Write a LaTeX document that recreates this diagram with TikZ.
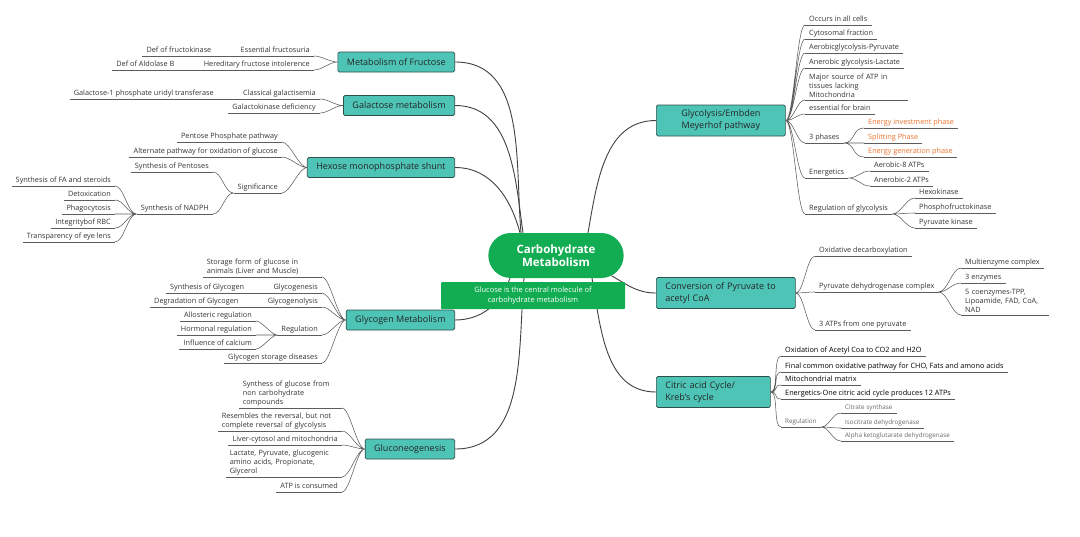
\documentclass[tikz,border=0pt]{standalone}
\usepackage{fontspec}
\setmainfont{Open Sans}
\usepackage{tikz}
\usetikzlibrary{positioning,shapes.misc}

\definecolor{topicfill}{HTML}{4DC4B6}
\definecolor{topicline}{HTML}{2F4F4B}
\definecolor{rootgreen}{HTML}{12AD52}
\definecolor{phaseorange}{HTML}{E8712B}
\definecolor{branchgray}{HTML}{5C5C5C}

\begin{document}
\begin{tikzpicture}[
  x=1pt, y=-1pt,
  root/.style={rounded rectangle, fill=rootgreen, text=white, minimum width=142pt,
    minimum height=45pt, align=center, font=\fontsize{11.5}{13.5}\selectfont\bfseries},
  note/.style={fill=rootgreen, rounded corners=1pt, text=white, minimum width=184pt,
    minimum height=27pt, align=center, font=\fontsize{7.5}{9.5}\selectfont},
  topic/.style={draw=topicline, fill=topicfill, line width=0.7pt, rounded corners=1.5pt,
    inner xsep=9pt, inner ysep=5pt, minimum height=20pt,
    font=\fontsize{9}{12}\selectfont, text=black!85},
  lf/.style={inner xsep=4pt, inner ysep=2pt, text=black!80, font=\fontsize{7.3}{9}\selectfont,
    append after command={(\tikzlastnode.south west) edge[br] (\tikzlastnode.south east)}},
  leaf/.style={lf, text height=5.5pt, text depth=1.7pt},
  mleaf/.style={lf, align=left, text width=#1},
  rleaf/.style={leaf, anchor=south west},
  lleaf/.style={leaf, anchor=south east},
  phase/.style={text=phaseorange},
  dark/.style={text=black},
  small/.style={font=\fontsize{6.3}{7.5}\selectfont, text=black!60},
  link/.style={draw=black!75, line width=0.9pt},
  br/.style={draw=branchgray, line width=0.55pt},
  rb/.style={br, out=0, in=180, distance=#1}, rb/.default=8pt,
  lb/.style={br, out=180, in=0, distance=#1}, lb/.default=8pt
]
\useasboundingbox (0,0) rectangle (1080,536);

% centre
\node[root] (cm) at (556,255.5) {Carbohydrate\\Metabolism};

% main topics
\node[topic, anchor=east] (fr) at (455,62) {Metabolism of Fructose};
\node[topic, anchor=east] (ga) at (455,105.5) {Galactose metabolism};
\node[topic, anchor=east] (hm) at (455,167.5) {Hexose monophosphate shunt};
\node[topic, anchor=east] (gy) at (455,320) {Glycogen Metabolism};
\node[topic, anchor=east] (gn) at (455,449) {Gluconeogenesis};
\node[topic, anchor=west, minimum width=129pt, align=center] (gl) at (656,120.5)
  {Glycolysis/Embden\\Meyerhof pathway};
\node[topic, anchor=west, text width=121pt, align=left] (cv) at (656,293)
  {Conversion of Pyruvate to\\acetyl CoA};
\node[topic, anchor=west, text width=96pt, align=left] (ca) at (656,392)
  {Citric acid Cycle/\\Kreb's cycle};

% fructose
\node[lleaf] (ef) at (314,56) {Essential fructosuria};
\node[lleaf] (hf) at (314,70) {Hereditary fructose intolerence};
\node[leaf, left=21pt of ef] (dfk) {Def of fructokinase};
\node[leaf, left=21pt of hf] (dab) {Def of Aldolase B};

% galactose
\node[lleaf] (cg) at (320,99) {Classical galactisemia};
\node[lleaf] (gk) at (320,113) {Galactokinase deficiency};
\node[leaf, left=21pt of cg] (gpt) {Galactose-1 phosphate uridyl transferase};

% HMP shunt
\node[lleaf] (pp) at (282,142) {Pentose Phosphate pathway};
\node[lleaf] (ap) at (282,157) {Alternate pathway for oxidation of glucose};
\node[lleaf] (sg) at (282,193) {Significance};
\node[lleaf] (sp) at (213,172) {Synthesis of Pentoses};
\node[lleaf] (sn) at (213,214) {Synthesis of NADPH};
\node[lleaf] (fa) at (115,186) {Synthesis of FA and steroids};
\node[lleaf] (dt) at (115,200) {Detoxication};
\node[lleaf] (pg) at (115,214) {Phagocytosis};
\node[lleaf] (rbc) at (115,228) {Integritybof RBC};
\node[lleaf] (el) at (115,242) {Transparency of eye lens};

% glycogen
\node[mleaf=111pt, anchor=south east] (sf) at (322,277)
  {Storage form of glucose in\\animals (Liver and Muscle)};
\node[lleaf] (gg) at (322,293) {Glycogenesis};
\node[lleaf] (gly) at (322,307) {Glycogenolysis};
\node[lleaf] (rgl) at (322,335) {Regulation};
\node[lleaf] (gsd) at (322,363) {Glycogen storage diseases};
\node[leaf, left=21pt of gg] (sgy) {Synthesis of Glycogen};
\node[leaf, left=21pt of gly] (dgy) {Degradation of Glycogen};
\node[lleaf] (alr) at (256,321) {Allosteric regulation};
\node[lleaf] (hor) at (256,335) {Hormonal regulation};
\node[lleaf] (cal) at (256,349) {Influence of calcium};

% gluconeogenesis
\node[mleaf=95pt, anchor=south east] (syn) at (342,408)
  {Synthess of glucose from\\non carbohydrate\\compounds};
\node[mleaf=116pt, anchor=south east] (rev) at (342,431)
  {Resembles the reversal, but not\\complete reversal of glycolysis};
\node[lleaf] (lcm) at (342,445) {Liver-cytosol and mitochondria};
\node[mleaf=108pt, anchor=south east] (sbs) at (342,477)
  {Lactate, Pyruvate, glucogenic\\amino acids, Propionate,\\Glycerol};
\node[lleaf] (atpc) at (342,492) {ATP is consumed};

% glycolysis
\node[rleaf] (occ) at (805,25) {Occurs in all cells};
\node[rleaf] (cyt) at (805,39) {Cytosomal fraction};
\node[rleaf] (aer) at (805,53) {Aerobicglycolysis-Pyruvate};
\node[rleaf] (ana) at (805,68) {Anerobic glycolysis-Lactate};
\node[mleaf=95pt, anchor=south west] (maj) at (805,100)
  {Major source of ATP in\\tissues lacking\\Mitochondria};
\node[rleaf] (brn) at (805,114) {essential for brain};
\node[rleaf] (ph) at (805,143) {3 phases};
\node[rleaf] (en) at (805,178) {Energetics};
\node[rleaf] (rg) at (805,214) {Regulation of glycolysis};
\node[rleaf, phase] (inv) at (864,128) {Energy investment phase};
\node[rleaf, phase] (spl) at (864,143) {Splitting Phase};
\node[rleaf, phase] (gen) at (864,157) {Energy generation phase};
\node[rleaf] (a8) at (870,171) {Aerobic-8 ATPs};
\node[rleaf] (a2) at (870,186) {Anerobic-2 ATPs};
\node[rleaf] (hk) at (915,198) {Hexokinase};
\node[rleaf] (pfk) at (915,213) {Phosphofructokinase};
\node[rleaf] (pk) at (915,228) {Pyruvate kinase};

% pyruvate to acetyl CoA
\node[rleaf] (odc) at (815,256) {Oxidative decarboxylation};
\node[rleaf] (pdh) at (815,292) {Pyruvate dehydrogenase complex};
\node[rleaf] (atp3) at (815,330) {3 ATPs from one pyruvate};
\node[rleaf] (mec) at (961,268) {Multienzyme complex};
\node[rleaf] (enz) at (961,283) {3 enzymes};
\node[mleaf=80pt, anchor=south west] (coe) at (961,315)
  {5 coenzymes-TPP,\\Lipoamide, FAD, CoA,\\NAD};

% citric acid cycle
\node[rleaf, dark] (ox) at (781,356) {Oxidation of Acetyl Coa to CO2 and H2O};
\node[rleaf, dark] (fcp) at (781,372) {Final common oxidative pathway for CHO, Fats and amono acids};
\node[rleaf, dark] (mm) at (781,385) {Mitochondrial matrix};
\node[rleaf, dark] (e12) at (781,399) {Energetics-One citric acid cycle produces 12 ATPs};
\node[rleaf, small] (reg) at (781,427) {Regulation};
\node[rleaf, small] (cs) at (841,413) {Citrate synthase};
\node[rleaf, small] (icd) at (841,428) {Isocitrate dehydrogenase};
\node[rleaf, small] (akg) at (841,441) {Alpha ketoglutarate dehydrogenase};

% branches, left side
\draw[lb] (fr.west) to (ef.south east) (fr.west) to (hf.south east);
\draw[br] (ef.south west) -- (dfk.south east) (hf.south west) -- (dab.south east);
\draw[lb] (ga.west) to (cg.south east) (ga.west) to (gk.south east);
\draw[br] (cg.south west) -- (gpt.south east);
\draw[lb] (hm.west) to (pp.south east) (hm.west) to (ap.south east)
  (hm.west) to (sg.south east);
\draw[lb=9pt] (sg.south west) to (sp.south east) (sg.south west) to (sn.south east);
\draw[lb=9pt] (sn.south west) to (fa.south east) (sn.south west) to (dt.south east)
  (sn.south west) to (pg.south east) (sn.south west) to (rbc.south east)
  (sn.south west) to (el.south east);
\draw[lb] (gy.west) to (sf.south east) (gy.west) to (gg.south east)
  (gy.west) to (gly.south east) (gy.west) to (rgl.south east)
  (gy.west) to (gsd.south east);
\draw[br] (gg.south west) -- (sgy.south east) (gly.south west) -- (dgy.south east);
\draw[lb=6pt] (rgl.south west) to (alr.south east) (rgl.south west) to (hor.south east)
  (rgl.south west) to (cal.south east);
\draw[lb] (gn.west) to (syn.south east) (gn.west) to (rev.south east)
  (gn.west) to (lcm.south east) (gn.west) to (sbs.south east)
  (gn.west) to (atpc.south east);

% branches, right side
\draw[rb] (gl.east) to (occ.south west) (gl.east) to (cyt.south west)
  (gl.east) to (aer.south west) (gl.east) to (ana.south west)
  (gl.east) to (maj.south west) (gl.east) to (brn.south west)
  (gl.east) to (ph.south west) (gl.east) to (en.south west)
  (gl.east) to (rg.south west);
\draw[rb=12pt] (ph.south east) to (inv.south west) (ph.south east) to (spl.south west)
  (ph.south east) to (gen.south west);
\draw[rb=9pt] (en.south east) to (a8.south west) (en.south east) to (a2.south west);
\draw[rb=9pt] (rg.south east) to (hk.south west) (rg.south east) to (pfk.south west)
  (rg.south east) to (pk.south west);
\draw[rb] (cv.east) to (odc.south west) (cv.east) to (pdh.south west)
  (cv.east) to (atp3.south west);
\draw[rb=9pt] (pdh.south east) to (mec.south west) (pdh.south east) to (enz.south west)
  (pdh.south east) to (coe.south west);
\draw[rb] (ca.east) to (ox.south west) (ca.east) to (fcp.south west)
  (ca.east) to (mm.south west) (ca.east) to (e12.south west)
  (ca.east) to (reg.south west);
\draw[rb=9pt] (reg.south east) to (cs.south west) (reg.south east) to (icd.south west)
  (reg.south east) to (akg.south west);

% centre to main topics
\draw[link] (fr.east) to[out=0, in=95] ([xshift=-35pt]cm.north);
\draw[link] (ga.east) to[out=0, in=98] ([xshift=-33pt]cm.north);
\draw[link] (hm.east) to[out=0, in=105] ([xshift=-36pt]cm.north);
\draw[link] ([xshift=32pt]cm.north) to[out=80, in=180] (gl.west);
\draw[link] (gy.east) to[out=0, in=-110] ([xshift=-46pt]cm.south);
\draw[link] (gn.east) to[out=0, in=-95] ([xshift=-32pt]cm.south);
\draw[link] (cm.-20) to[out=-30, in=180] (cv.west);
\draw[link] ([xshift=36pt]cm.south) to[out=-80, in=180] (ca.west);

% note under the centre
\node[note] (nt) at (533,295.5) {Glucose is the central molecule of\\carbohydrate metabolism};
\end{tikzpicture}
\end{document}
